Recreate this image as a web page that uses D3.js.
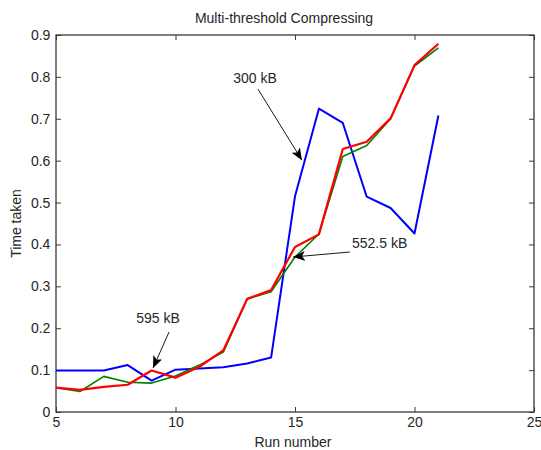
<!DOCTYPE html>
<html>
<head>
<meta charset="utf-8">
<script src="https://cdn.jsdelivr.net/npm/d3@7"></script>
<style>
  html, body { margin: 0; padding: 0; background: #fff; }
  svg { display: block; font-family: "Liberation Sans", Arial, sans-serif; }
</style>
</head>
<body>
<svg id="chart" width="541" height="450"></svg>
<script>
const runs = [5, 6, 7, 8, 9, 10, 11, 12, 13, 14, 15, 16, 17, 18, 19, 20, 21];
const blue300 = [0.099, 0.099, 0.099, 0.112, 0.075, 0.101, 0.104, 0.107, 0.116, 0.13, 0.515, 0.724, 0.69, 0.514, 0.487, 0.426, 0.708];
const green552 = [0.058, 0.049, 0.085, 0.071, 0.069, 0.086, 0.112, 0.143, 0.27, 0.287, 0.37, 0.425, 0.61, 0.636, 0.7, 0.826, 0.869];
const red595 = [0.058, 0.053, 0.06, 0.065, 0.099, 0.082, 0.108, 0.147, 0.27, 0.291, 0.394, 0.424, 0.628, 0.645, 0.701, 0.828, 0.879];
const xTicks = [5, 10, 15, 20, 25];
const yTicks = [0, 0.1, 0.2, 0.3, 0.4, 0.5, 0.6, 0.7, 0.8, 0.9];
const annotations = [
  { label: "300 kB", tx: 13.33, ty: 0.797, x1: 13.45, y1: 0.771, x2: 15.29, y2: 0.601 },
  { label: "552.5 kB", tx: 18.54, ty: 0.403, x1: 17.30, y1: 0.382, x2: 14.92, y2: 0.370 },
  { label: "595 kB", tx: 9.27, ty: 0.224, x1: 9.73, y1: 0.191, x2: 9.06, y2: 0.105 }
];
const series = [
  { name: "300 kB", values: blue300, color: "#0000ff", width: 2 },
  { name: "552.5 kB", values: green552, color: "#008000", width: 1.6 },
  { name: "595 kB", values: red595, color: "#ff0000", width: 2.2 }
];

const svg = d3.select("#chart");
const mLeft = 56, mRight = 534, mTop = 35, mBottom = 412;
const x = d3.scaleLinear().domain([5, 25]).range([mLeft, mRight]);
const y = d3.scaleLinear().domain([0, 0.9]).range([mBottom, mTop]);
const textColor = "#262626";
const axisColor = "#3a3a3a";
const fs = 14;

// box
svg.append("rect").attr("x", mLeft).attr("y", mTop)
  .attr("width", mRight - mLeft).attr("height", mBottom - mTop)
  .attr("fill", "none").attr("stroke", axisColor).attr("stroke-width", 1.3);

// axes with inward ticks
const tickLen = 5;
const gx = svg.append("g").attr("transform", `translate(0,${mBottom})`)
  .call(d3.axisBottom(x).tickValues(xTicks).tickFormat(d3.format("d")).tickSizeInner(-tickLen).tickSizeOuter(0).tickPadding(5));
const gxTop = svg.append("g").attr("transform", `translate(0,${mTop})`)
  .call(d3.axisTop(x).tickValues(xTicks).tickFormat("").tickSizeInner(-tickLen).tickSizeOuter(0));
const gy = svg.append("g").attr("transform", `translate(${mLeft},0)`)
  .call(d3.axisLeft(y).tickValues(yTicks).tickFormat(d => d === 0 ? "0" : d3.format(".1f")(d)).tickSizeInner(-tickLen).tickSizeOuter(0).tickPadding(7));
const gyRight = svg.append("g").attr("transform", `translate(${mRight},0)`)
  .call(d3.axisRight(y).tickValues(yTicks).tickFormat("").tickSizeInner(-tickLen).tickSizeOuter(0));
[gx, gxTop, gy, gyRight].forEach(g => {
  g.select(".domain").remove();
  g.selectAll(".tick line").attr("stroke", axisColor);
  g.selectAll("text").attr("fill", textColor).attr("font-size", fs)
    .attr("font-family", "'Liberation Sans', Arial, sans-serif");
});
gy.selectAll("text").attr("dx", "0.1em");

// lines
const line = d3.line().x((d, i) => x(runs[i])).y(d => y(d));
series.forEach(s => {
  svg.append("path").datum(s.values)
    .attr("d", line)
    .attr("fill", "none")
    .attr("stroke", s.color)
    .attr("stroke-width", s.width)
    .attr("stroke-linejoin", "round");
});

// annotations
const defs = svg.append("defs");
defs.append("marker").attr("id", "arrow")
  .attr("viewBox", "0 0 12 10").attr("refX", 12).attr("refY", 5)
  .attr("markerWidth", 12).attr("markerHeight", 10)
  .attr("markerUnits", "userSpaceOnUse").attr("orient", "auto")
  .append("path").attr("d", "M0,0 L12,5 L0,10 L3,5 Z").attr("fill", "#000");

annotations.forEach(a => {
  svg.append("line")
    .attr("x1", x(a.x1)).attr("y1", y(a.y1))
    .attr("x2", x(a.x2)).attr("y2", y(a.y2))
    .attr("stroke", "#000").attr("stroke-width", 0.9)
    .attr("marker-end", "url(#arrow)");
  svg.append("text")
    .attr("x", x(a.tx)).attr("y", y(a.ty))
    .attr("dy", "0.35em")
    .attr("text-anchor", "middle")
    .attr("font-size", fs)
    .attr("fill", textColor)
    .text(a.label);
});

// title and labels
svg.append("text").attr("x", 284).attr("y", 23)
  .attr("text-anchor", "middle").attr("font-size", fs).attr("fill", textColor)
  .text("Multi-threshold Compressing");
svg.append("text").attr("x", 293).attr("y", 447)
  .attr("text-anchor", "middle").attr("font-size", fs).attr("fill", textColor)
  .text("Run number");
svg.append("text")
  .attr("transform", `translate(21,${(mTop + mBottom) / 2}) rotate(-90)`)
  .attr("text-anchor", "middle").attr("font-size", fs).attr("fill", textColor)
  .text("Time taken");
</script>
</body>
</html>
